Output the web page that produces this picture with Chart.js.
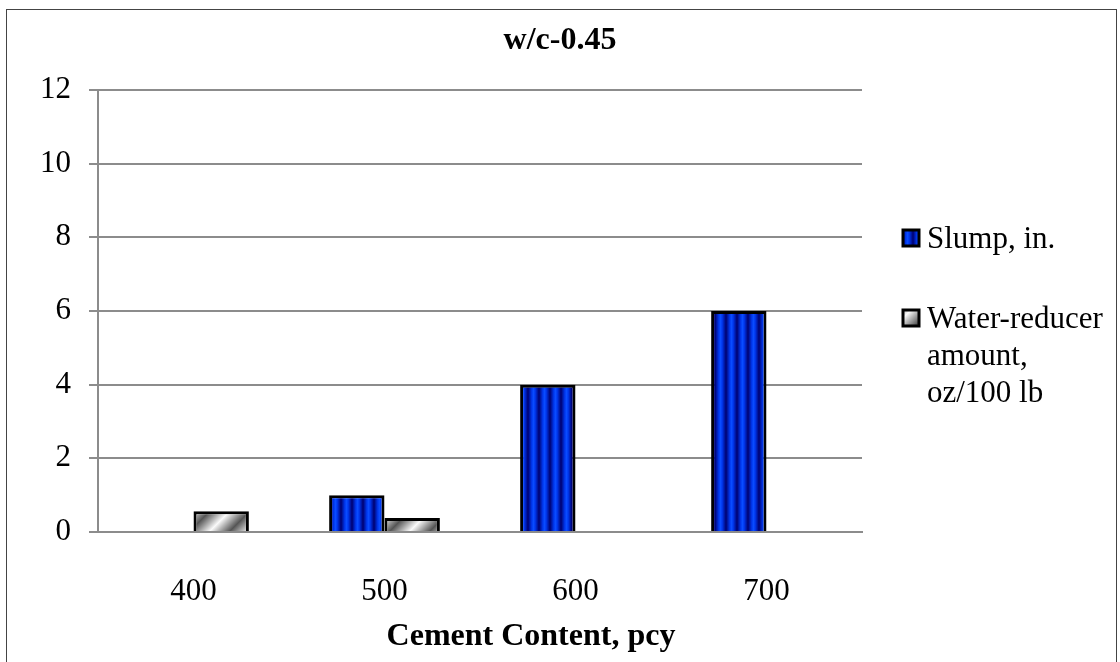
<!DOCTYPE html>
<html>
<head>
<meta charset="utf-8">
<script src="https://cdn.jsdelivr.net/npm/chart.js@4.4.1/dist/chart.umd.min.js"></script>
<style>
  html, body { margin: 0; padding: 0; background: #fff; overflow: hidden; }
  #wrap { position: relative; width: 1120px; height: 662px; }
  #frame { position: absolute; left: 6px; top: 9px; width: 1111px; height: 700px; border: 1.5px solid #444; box-sizing: border-box; pointer-events: none; }
  canvas { position: absolute; left: 0; top: 0; }
</style>
</head>
<body>
<div id="wrap">
  <canvas id="grafico" width="1120" height="662"></canvas>
  <div id="frame"></div>
</div>
<script>
// dados do gráfico
const categorias = ['400', '500', '600', '700'];
const slump = [0, 1, 4, 6];
const redutor = [0.56, 0.38, 0, 0];
const legendaSlump = ['Slump, in.'];
const legendaRedutor = ['Water-reducer', 'amount,', 'oz/100 lb'];
const tituloEixoX = 'Cement Content, pcy';
const fonte = '"Liberation Serif", "Times New Roman", serif';

// padrão azul com listras verticais
function padraoAzul(ctx) {
    const c = document.createElement('canvas');
    c.width = 11; c.height = 4;
    const g = c.getContext('2d');
    const grad = g.createLinearGradient(0, 0, 11, 0);
    grad.addColorStop(0, '#000070');
    grad.addColorStop(0.35, '#0038f0');
    grad.addColorStop(0.5, '#0a4cff');
    grad.addColorStop(0.65, '#0038f0');
    grad.addColorStop(1, '#000070');
    g.fillStyle = grad;
    g.fillRect(0, 0, 11, 4);
    return ctx.createPattern(c, 'repeat');
}

// padrão cinza com faixa diagonal (sobe para a direita)
function padraoCinza(ctx) {
    const s = 40;
    const c = document.createElement('canvas');
    c.width = s; c.height = s;
    const g = c.getContext('2d');
    const img = g.createImageData(s, s);
    for (let y = 0; y < s; y++) {
        for (let x = 0; x < s; x++) {
            const t = ((x + y) % s) / s;
            const d = Math.abs(t - 0.5) * 2; // 0 no centro, 1 nas bordas
            const v = Math.round(250 - d * 165);
            const i = (y * s + x) * 4;
            img.data[i] = v; img.data[i + 1] = v; img.data[i + 2] = v; img.data[i + 3] = 255;
        }
    }
    g.putImageData(img, 0, 0);
    return ctx.createPattern(c, 'repeat');
}

const ctx = document.getElementById('grafico').getContext('2d');
const azul = padraoAzul(ctx);
const cinza = padraoCinza(ctx);

// legenda à direita e título do eixo X
const extrasPlugin = {
    id: 'extras',
    afterDraw(chart) {
        const c = chart.ctx;
        c.save();
        c.font = '31px ' + fonte;
        c.textBaseline = 'middle';
        const itens = [
            { linhas: legendaSlump, y: 238, fill: azul },
            { linhas: legendaRedutor, y: 318, fill: cinza }
        ];
        itens.forEach(item => {
            c.fillStyle = item.fill;
            c.fillRect(903, item.y - 8, 16, 16);
            c.strokeStyle = '#000';
            c.lineWidth = 3;
            c.strokeRect(903, item.y - 8, 16, 16);
            c.fillStyle = '#000';
            item.linhas.forEach((t, i) => c.fillText(t, 927, item.y + 2 + i * 37));
        });

        c.font = 'bold 32px ' + fonte;
        c.textAlign = 'center';
        c.fillText(tituloEixoX, 531, 637);
        c.restore();
    }
};

new Chart(ctx, {
    type: 'bar',
    data: {
        labels: categorias,
        datasets: [{
            label: legendaSlump.join(' '),
            data: slump,
            backgroundColor: azul,
            borderColor: '#000',
            borderWidth: 3
        }, {
            label: legendaRedutor.join(' '),
            data: redutor,
            backgroundColor: cinza,
            borderColor: '#000',
            borderWidth: 3
        }]
    },
    options: {
        responsive: false,
        animation: false,
        categoryPercentage: 0.58,
        barPercentage: 1,
        layout: { padding: 0 },
        plugins: {
            legend: { display: false },
            tooltip: { enabled: false },
            title: {
                display: true,
                text: 'w/c-0.45',
                color: '#000',
                font: { family: fonte, size: 32, weight: 'bold', lineHeight: 1.2 },
                padding: { top: 22, bottom: 29.6 }
            }
        },
        scales: {
            x: {
                grid: { display: false },
                border: { display: true, color: '#8c8c8c', width: 2 },
                ticks: { color: '#000', font: { family: fonte, size: 31 }, padding: 33 },
                afterFit(scale) { scale.height = 130; }
            },
            y: {
                min: 0,
                max: 12,
                ticks: { stepSize: 2, color: '#000', font: { family: fonte, size: 31 }, padding: 18 },
                grid: { color: '#8c8c8c', lineWidth: 2, tickLength: 9 },
                border: { display: true, color: '#8c8c8c', width: 2 },
                afterFit(scale) { scale.width = 98; }
            },
            // espaço reservado para a legenda à direita
            espaco: {
                type: 'linear',
                position: 'right',
                display: true,
                grid: { display: false, drawTicks: false },
                border: { display: false },
                ticks: { display: false },
                afterFit(scale) { scale.width = 258; }
            }
        }
    },
    plugins: [extrasPlugin]
});
</script>
</body>
</html>
